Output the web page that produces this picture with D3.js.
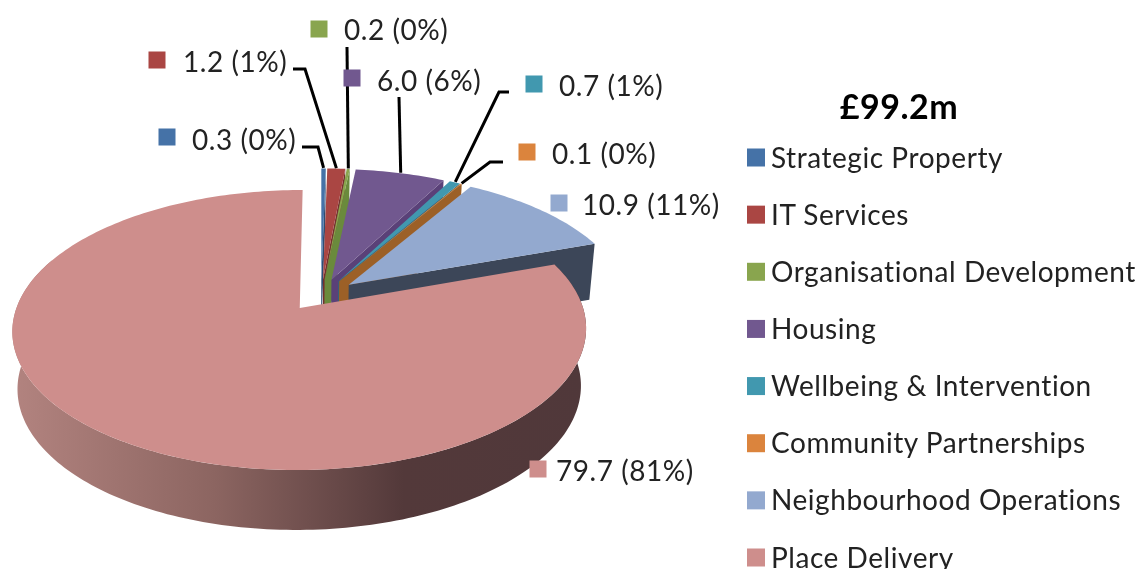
<!DOCTYPE html>
<html>
<head>
<meta charset="utf-8">
<script src="https://cdn.jsdelivr.net/npm/d3@7"></script>
<style>
    html, body { margin: 0; padding: 0; background: #fff; overflow: hidden; }
    svg { filter: blur(0.45px); }
    text { font-family: Lato, "Open Sans", sans-serif; fill: #222; font-variant-ligatures: none; letter-spacing: 0.55px; }
</style>
</head>
<body>
<div id="chart"></div>
<script>
// chart values
const categories = ["Strategic Property", "IT Services", "Organisational Development", "Housing",
    "Wellbeing & Intervention", "Community Partnerships", "Neighbourhood Operations", "Place Delivery"];
const values = [0.3, 1.2, 0.2, 6.0, 0.7, 0.1, 10.9, 79.7];
const percents = [0, 1, 0, 6, 1, 0, 11, 81];
const chartTitle = "£99.2m";

// colours for the top faces and the darker cut walls
const topColors = ["#4572a7", "#aa4643", "#89a54e", "#71588f", "#4198af", "#db843d", "#93a9cf", "#ce8e8c"];
const wallColors = ["#2f4d72", "#74302e", "#6a8a3c", "#5a4178", "#2c6a7a", "#9c6027", "#3c4658", "#50383a"];

// where each data label sits: swatch centre, text start, then the leader line start and elbow
const labelLayout = [
    { sx: 167, sy: 137, tx: 192, ty: 139, line: [[302, 147], [318, 147]] },
    { sx: 157, sy: 60, tx: 183, ty: 61, line: [[293, 69], [305, 69]] },
    { sx: 319, sy: 29, tx: 344, ty: 29, line: [[347, 47]] },
    { sx: 352, sy: 78, tx: 377, ty: 80, line: [[399, 97]] },
    { sx: 534, sy: 84, tx: 559, ty: 85, line: [[509, 92], [499, 92]] },
    { sx: 527, sy: 152, tx: 552, ty: 153, line: [[503, 162], [490, 162]] },
    { sx: 559, sy: 203, tx: 582, ty: 204, line: [] },
    { sx: 538, sy: 469, tx: 556, ty: 470, line: [] }
];

const width = 1140;
const height = 569;

const svg = d3.select("#chart")
    .append("svg")
    .attr("width", width)
    .attr("height", height);

// gradient for the outer wall of the big slice
const grad = svg.append("defs").append("linearGradient")
    .attr("id", "wallGrad")
    .attr("gradientUnits", "userSpaceOnUse")
    .attr("x1", 15).attr("x2", 586).attr("y1", 0).attr("y2", 0);
grad.append("stop").attr("offset", "0%").attr("stop-color", "#b2837f");
grad.append("stop").attr("offset", "35%").attr("stop-color", "#8c6561");
grad.append("stop").attr("offset", "68%").attr("stop-color", "#53393a");
grad.append("stop").attr("offset", "100%").attr("stop-color", "#50383a");

// perspective of the pie: the disc is tilted away, so the back is smaller
const persp = { xc: 321, A: 279, k: 0.1548, a: 86.8, b: 294.8, explodeX: 0.13, explodeY: 0.12 };

function project(u, v) {
    const w = 1 - persp.k * v;
    return [persp.xc + persp.A * u / w, (persp.a * v + persp.b) / w];
}

// same point on the underside of the pie
function lower(p) {
    return [299 + (p[0] - 299) * 0.982, p[1] + 55 + (p[1] - 190) * 0.0177];
}

const pie = d3.pie().sort(null).value(d => d);
const slices = pie(values);
const line = d3.line();

// point on a slice at radius r and angle t, moved out along the middle of the slice
function slicePoint(d, r, t) {
    const mid = (d.startAngle + d.endAngle) / 2;
    return project(r * Math.sin(t) + persp.explodeX * Math.sin(mid), -r * Math.cos(t) - persp.explodeY * Math.cos(mid));
}

function arcPoints(d, from, to) {
    const n = Math.max(2, Math.ceil(Math.abs(to - from) / 0.02));
    return d3.range(n + 1).map(i => slicePoint(d, 1, from + (to - from) * i / n));
}

const pieGroup = svg.append("g");

// back slices first, the big slice goes on top of them
slices.forEach((d, i) => {
    const apex = slicePoint(d, 0, 0);
    const outer = slicePoint(d, 1, d.endAngle);

    if (i < slices.length - 1) {
        // cut wall at the end of the slice
        pieGroup.append("path")
            .attr("d", line([apex, outer, lower(outer), lower(apex)]) + "Z")
            .attr("fill", wallColors[i]);
    } else {
        // outer wall, only the part facing us
        const top = arcPoints(d, d.startAngle, 1.62 * Math.PI);
        pieGroup.append("path")
            .attr("d", line(top.concat(top.map(lower).reverse())) + "Z")
            .attr("fill", "url(#wallGrad)");
    }

    pieGroup.append("path")
        .attr("d", line([apex].concat(arcPoints(d, d.startAngle, d.endAngle))) + "Z")
        .attr("fill", topColors[i]);
});

// data labels with swatch and leader line
const labels = svg.append("g");
labelLayout.forEach((l, i) => {
    labels.append("rect")
        .attr("x", l.sx - 8.5).attr("y", l.sy - 8.5)
        .attr("width", 17).attr("height", 17)
        .attr("fill", topColors[i]);
    labels.append("text")
        .attr("x", l.tx).attr("y", l.ty)
        .attr("dominant-baseline", "central")
        .attr("font-size", 28)
        .text(`${values[i].toFixed(1)} (${percents[i]}%)`);
    if (l.line.length) {
        const d = slices[i];
        const end = slicePoint(d, 1.005, (d.startAngle + d.endAngle) / 2);
        labels.append("path")
            .attr("d", line(l.line.concat([end])))
            .attr("fill", "none")
            .attr("stroke", "#000")
            .attr("stroke-width", 3);
    }
});

// legend on the right
const legendY = d3.scalePoint().domain(categories).range([157.5, 557.5]);

svg.append("text")
    .attr("x", 899).attr("y", 119)
    .attr("text-anchor", "middle")
    .attr("font-size", 34)
    .attr("font-weight", "bold")
    .style("fill", "#000")
    .text(chartTitle);

const legend = svg.selectAll(".legend-item")
    .data(categories)
    .enter().append("g")
    .attr("class", "legend-item")
    .attr("transform", d => `translate(747,${legendY(d)})`);

legend.append("rect")
    .attr("y", -9)
    .attr("width", 18).attr("height", 18)
    .attr("fill", (d, i) => topColors[i]);

legend.append("text")
    .attr("x", 24)
    .attr("y", -1)
    .attr("dominant-baseline", "central")
    .attr("font-size", 28)
    .text(d => d);
</script>
</body>
</html>
